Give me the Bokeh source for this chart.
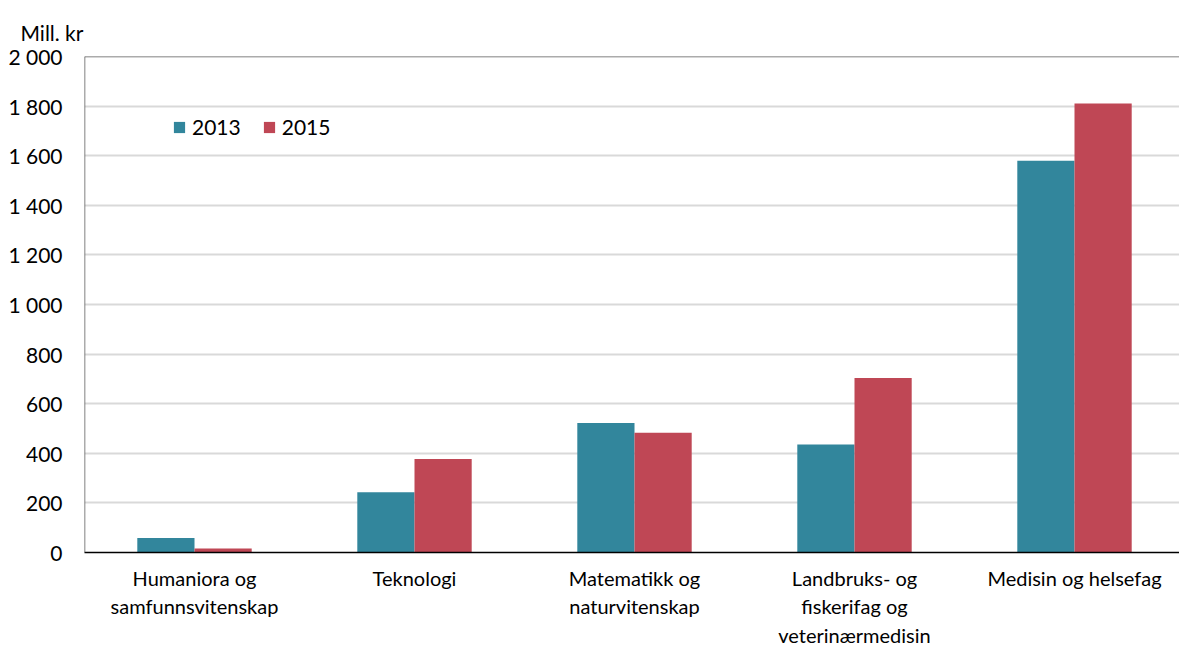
from bokeh.plotting import figure
from bokeh.models import Range1d, ColumnDataSource, Legend, LegendItem, FixedTicker, Span
from bokeh.transform import dodge
from bokeh.embed import file_html
from bokeh.resources import INLINE

categories = ["Humaniora og\nsamfunnsvitenskap", "Teknologi", "Matematikk og\nnaturvitenskap",
              "Landbruks- og\nfiskerifag og\nveterinærmedisin", "Medisin og helsefag"]
series_names = ["2013", "2015"]
v2013 = [58, 243, 522, 435, 1580]
v2015 = [16, 377, 483, 704, 1810]
y_ticks = [0, 200, 400, 600, 800, 1000, 1200, 1400, 1600, 1800, 2000]

TEAL = "#32869c"
RED = "#bf4755"
FONT = "Lato"

xs = list(range(len(categories)))
src = ColumnDataSource(dict(x=xs, v2013=v2013, v2015=v2015))

x_lo = -0.5
p = figure(width=1179, height=650, output_backend="svg", toolbar_location=None,
           x_range=Range1d(x_lo, x_lo + 1095 / 220), y_range=Range1d(0, 2000),
           min_border_left=84, min_border_right=0, min_border_top=56, min_border_bottom=97)

r1 = p.vbar(x=dodge("x", -0.13, range=p.x_range), top="v2013", width=0.26, source=src,
            fill_color=TEAL, line_color=None)
r2 = p.vbar(x=dodge("x", 0.13, range=p.x_range), top="v2015", width=0.26, source=src,
            fill_color=RED, line_color=None)

p.xaxis.ticker = FixedTicker(ticks=xs)
p.xaxis.major_label_overrides = {i: c for i, c in enumerate(categories)}
p.xaxis.major_tick_line_color = None
p.xaxis.minor_tick_line_color = None
p.xaxis.axis_line_color = "black"
p.xaxis.axis_line_width = 1.5
p.xaxis.major_label_text_font = FONT
p.xaxis.major_label_text_font_size = "20px"
p.xaxis.major_label_text_color = "#000000"
p.xaxis.major_label_standoff = 7

p.yaxis.ticker = FixedTicker(ticks=y_ticks)
p.yaxis.major_label_overrides = {v: f"{v:,}".replace(",", " ") for v in y_ticks}
p.yaxis.major_tick_line_color = None
p.yaxis.minor_tick_line_color = None
p.yaxis.axis_line_color = None
p.yaxis.major_label_text_font = FONT
p.yaxis.major_label_text_font_size = "21px"
p.yaxis.major_label_text_color = "#000000"
p.yaxis.major_label_standoff = 16

p.xgrid.grid_line_color = None
p.ygrid.grid_line_color = "#d9d9d9"
p.ygrid.grid_line_width = 2

p.outline_line_color = None
p.add_layout(Span(location=y_ticks[-1], dimension="width", line_color="#595959", line_width=1.5))
p.add_layout(Span(location=x_lo, dimension="height", line_color="#595959", line_width=1.5))

p.title.text = "Mill. kr"
p.title.text_font = FONT
p.title.text_font_size = "21px"
p.title.text_font_style = "normal"
p.title.text_color = "#000000"
p.title.align = "left"
p.title.vertical_align = "top"
p.title.offset = -64
p.title.standoff = 20

legend = Legend(items=[LegendItem(label=series_names[0], renderers=[r1]),
                       LegendItem(label=series_names[1], renderers=[r2])],
                orientation="horizontal", location=(88, 413),
                label_text_font=FONT, label_text_font_size="21px", label_text_color="#000000",
                glyph_width=14, glyph_height=14, label_height=20, label_standoff=6,
                spacing=21, padding=0, margin=0,
                border_line_color=None, background_fill_alpha=0)
p.add_layout(legend)

p.background_fill_color = "white"
p.border_fill_color = "white"

open("out.html", "w").write(file_html(p, INLINE))
